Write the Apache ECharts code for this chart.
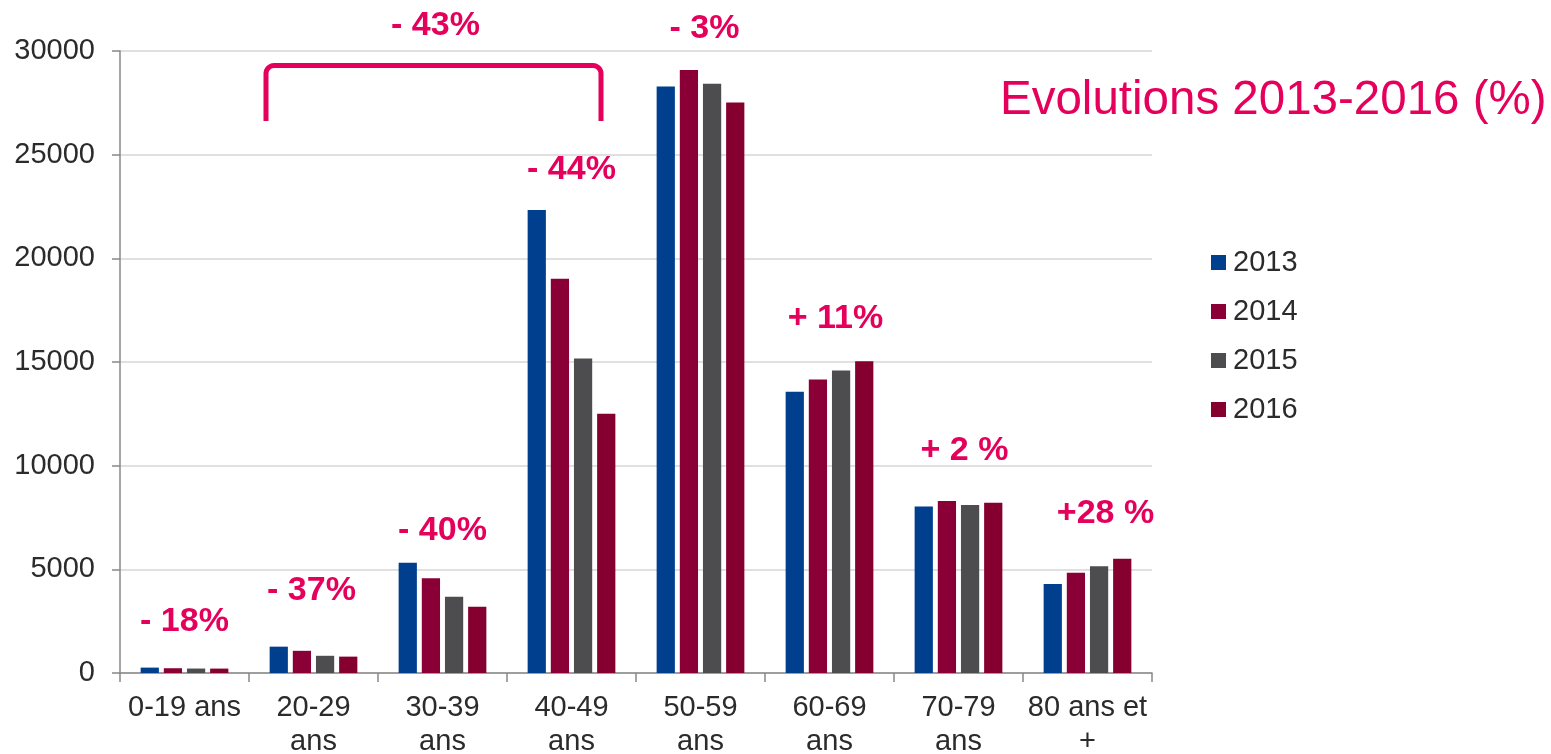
<!DOCTYPE html>
<html>
<head>
<meta charset="utf-8">
<script src="https://cdn.jsdelivr.net/npm/echarts@6/dist/echarts.min.js"></script>
<style>
html,body{margin:0;padding:0;background:#fff;}
#chart{width:1551px;height:754px;}
</style>
</head>
<body>
<div id="chart"></div>
<script>
// ---- data ----
const categories = ['0-19 ans', '20-29\nans', '30-39\nans', '40-49\nans', '50-59\nans', '60-69\nans', '70-79\nans', '80 ans et\n+'];
const years = ['2013', '2014', '2015', '2016'];
const values2013 = [260, 1270, 5320, 22330, 28290, 13560, 8030, 4290];
const values2014 = [230, 1070, 4570, 19020, 29080, 14160, 8300, 4840];
const values2015 = [215, 830, 3680, 15170, 28420, 14590, 8100, 5150];
const values2016 = [213, 790, 3200, 12500, 27520, 15040, 8210, 5510];
const yTicks = [0, 5000, 10000, 15000, 20000, 25000, 30000];
// evolution annotations: category index, anchor value (data units), text
const evoCategory = [0, 1, 2, 3, 4, 5, 6, 7, 2];
const evoAnchor = [2480, 3960, 6880, 24300, 31060, 17090, 10720, 7680, 31220];
const evoText = ['- 18%', '- 37%', '- 40%', '- 44%', '- 3%', '+ 11%', '+ 2 %', '+28 %', '- 43%'];
const titleText = 'Evolutions 2013-2016 (%)';

// ---- styles ----
const FONT = "'Liberation Sans', Arial, sans-serif";
const PINK = '#E4005B';
const colors = ['#003F8E', '#8A0036', '#4D4D4F', '#86002F'];
const evoOffsetX = [0, -2, 0, 0, 4, 6, 6, 18, -7];

// bracket geometry (annotation decoration, pixels)
function bracketPoints(x1, x2, yTop, yBottom, r) {
  const pts = [[x1, yBottom]];
  for (let k = 0; k <= 8; k++) {
    const a = Math.PI - (Math.PI / 2) * (k / 8);
    pts.push([x1 + r + r * Math.cos(a), yTop + r - r * Math.sin(a)]);
  }
  for (let k = 0; k <= 8; k++) {
    const a = Math.PI / 2 - (Math.PI / 2) * (k / 8);
    pts.push([x2 - r + r * Math.cos(a), yTop + r - r * Math.sin(a)]);
  }
  pts.push([x2, yBottom]);
  return pts;
}

const chart = echarts.init(document.getElementById('chart'), null, {renderer: 'canvas'});

const seriesVals = [values2013, values2014, values2015, values2016];
const barSeries = years.map((y, i) => ({
  name: y,
  type: 'bar',
  data: seriesVals[i],
  itemStyle: {color: colors[i]},
  barGap: '27%',
  barCategoryGap: '32%'
}));

const evoSeries = {
  type: 'scatter',
  symbolSize: 0,
  clip: false,
  silent: true,
  z: 10,
  itemStyle: {opacity: 1, color: PINK},
  data: evoText.map((t, i) => ({
    value: [evoCategory[i], evoAnchor[i]],
    label: {offset: [evoOffsetX[i], 0]}
  })),
  label: {
    show: true,
    position: 'inside',
    formatter: p => evoText[p.dataIndex],
    color: PINK,
    opacity: 1,
    fontSize: 34,
    fontWeight: 'bold',
    fontFamily: FONT,
    textBorderWidth: 0
  },
  tooltip: {show: false}
};

chart.setOption({
  animation: false,
  textStyle: {fontFamily: FONT},
  title: {
    text: titleText,
    left: 1000,
    top: 77,
    padding: 0,
    textStyle: {color: PINK, fontSize: 47.5, fontWeight: 'normal', fontFamily: FONT}
  },
  legend: {
    data: years,
    orient: 'vertical',
    left: 1211,
    top: 248,
    padding: 0,
    itemWidth: 15,
    itemHeight: 15,
    itemGap: 20,
    icon: 'rect',
    textStyle: {fontSize: 29, color: '#2b2b2b', fontFamily: FONT, padding: [0, 0, 0, 2]}
  },
  grid: {left: 120, right: 399, top: 51, bottom: 81, containLabel: false, outerBoundsMode: 'none'},
  xAxis: {
    type: 'category',
    data: categories,
    axisLine: {lineStyle: {color: '#888', width: 1.5}},
    axisTick: {show: true, length: 9, lineStyle: {color: '#888', width: 1.5}},
    axisLabel: {fontSize: 29, color: '#2b2b2b', margin: 18, lineHeight: 34, interval: 0, fontFamily: FONT}
  },
  yAxis: {
    type: 'value',
    min: yTicks[0],
    max: yTicks[yTicks.length - 1],
    interval: yTicks[1] - yTicks[0],
    axisLine: {show: true, lineStyle: {color: '#888', width: 1.5}},
    axisTick: {show: true, length: 8, lineStyle: {color: '#888', width: 1.5}},
    axisLabel: {fontSize: 29, color: '#2b2b2b', margin: 25, fontFamily: FONT, formatter: v => String(v)},
    splitLine: {lineStyle: {color: '#e0e0e0', width: 2}}
  },
  graphic: [{
    type: 'polyline',
    shape: {points: bracketPoints(266, 601, 65.5, 121, 8)},
    style: {stroke: PINK, lineWidth: 5, fill: null, lineJoin: 'round'},
    z: 20
  }],
  series: [...barSeries, evoSeries]
});
</script>
</body>
</html>
